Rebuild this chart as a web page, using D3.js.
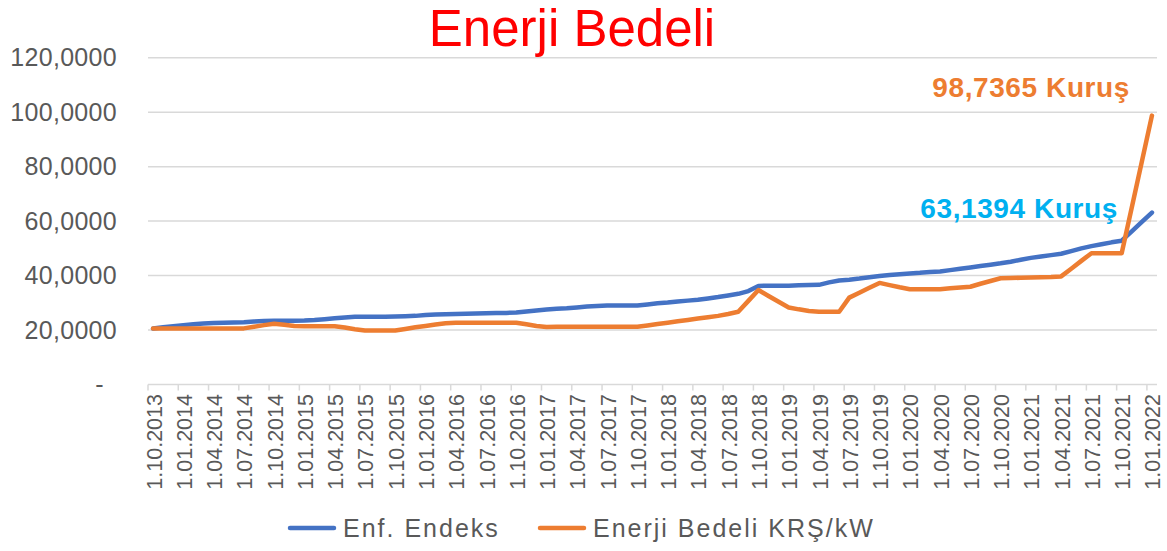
<!DOCTYPE html>
<html>
<head>
<meta charset="utf-8">
<script src="https://cdn.jsdelivr.net/npm/d3@7"></script>
<style>
  html, body { margin: 0; padding: 0; background: #ffffff; }
  svg { display: block; font-family: "Liberation Sans", Arial, sans-serif; }
</style>
</head>
<body>
<svg id="chart" width="1167" height="551"></svg>
<script>
// ---- data ----
const tickLabels = ["1.10.2013","1.01.2014","1.04.2014","1.07.2014","1.10.2014","1.01.2015","1.04.2015","1.07.2015","1.10.2015",
  "1.01.2016","1.04.2016","1.07.2016","1.10.2016","1.01.2017","1.04.2017","1.07.2017","1.10.2017",
  "1.01.2018","1.04.2018","1.07.2018","1.10.2018","1.01.2019","1.04.2019","1.07.2019","1.10.2019",
  "1.01.2020","1.04.2020","1.07.2020","1.10.2020","1.01.2021","1.04.2021","1.07.2021","1.10.2021","1.01.2022"];

const months = d3.timeMonth.range(new Date(2013, 9, 1), new Date(2022, 1, 1)); // Oct 2013 .. Jan 2022 (monthly categories)

const enfEndeks = [
  20.6,21.0,21.4,21.8,22.1,22.4,22.6,22.7,22.8,22.9,
  23.1,23.3,23.4,23.4,23.4,23.5,23.7,24.0,24.3,24.6,
  24.9,24.9,24.9,24.9,25.0,25.1,25.2,25.5,25.7,25.8,
  25.9,26.0,26.1,26.2,26.3,26.3,26.4,26.8,27.2,27.5,
  27.8,28.0,28.3,28.6,28.8,29.0,29.0,29.0,29.0,29.4,
  29.8,30.1,30.5,30.8,31.1,31.6,32.1,32.7,33.3,34.3,
  36.2,36.3,36.3,36.3,36.4,36.5,36.6,37.5,38.2,38.5,
  38.9,39.4,39.8,40.2,40.5,40.8,41.0,41.3,41.5,42.0,
  42.5,43.0,43.5,44.0,44.5,45.1,45.8,46.5,47.0,47.5,
  48.0,49.0,50.0,50.8,51.5,52.2,52.8,56.2,59.7,63.1394
];

const enerjiBedeli = [
  20.6,20.6,20.6,20.6,20.6,20.6,20.6,20.6,20.6,20.6,
  21.2,21.8,22.3,21.9,21.5,21.4,21.4,21.4,21.4,20.9,
  20.3,19.8,19.8,19.8,19.8,20.4,21.0,21.5,22.0,22.5,
  22.7,22.7,22.7,22.7,22.7,22.7,22.7,22.1,21.5,21.1,
  21.2,21.2,21.2,21.2,21.2,21.2,21.2,21.2,21.2,21.7,
  22.2,22.7,23.2,23.7,24.2,24.7,25.2,25.9,26.7,30.7,
  34.7,32.5,30.4,28.3,27.6,27.0,26.7,26.7,26.7,31.9,
  33.7,35.5,37.3,36.5,35.7,35.0,35.0,35.0,35.0,35.3,
  35.6,35.9,37.0,38.0,39.0,39.1,39.2,39.3,39.4,39.5,
  39.7,42.5,45.4,48.2,48.2,48.2,48.2,65.0,81.9,98.7365
];

const yTicks = [0, 20, 40, 60, 80, 100, 120];
const yTickLabels = ["-", "20,0000", "40,0000", "60,0000", "80,0000", "100,0000", "120,0000"];
const seriesNames = ["Enf. Endeks", "Enerji Bedeli KRŞ/kW"];
const endLabels = ["63,1394 Kuruş", "98,7365 Kuruş"];
const titleText = "Enerji Bedeli";

// ---- layout ----
const svg = d3.select("#chart");
const pLeft = 148, pRight = 1157, pTop = 57.7, pBottom = 384.5;
const colBlue = "#4472C4", colOrange = "#ED7D31", gridCol = "#D9D9D9", textCol = "#595959";

const x = d3.scaleBand().domain(d3.range(months.length)).range([pLeft, pRight]).padding(0);
const xc = i => x(i) + x.bandwidth() / 2;
const y = d3.scaleLinear().domain([0, 120]).range([pBottom, pTop]);

// title
svg.append("text").attr("x", 572).attr("y", 46).attr("text-anchor", "middle")
  .attr("font-size", 51).attr("fill", "#FF0000").text(titleText);

// gridlines
svg.append("g").selectAll("line").data(yTicks.filter(d => d > 0)).join("line")
  .attr("x1", pLeft).attr("x2", pRight).attr("y1", d => y(d)).attr("y2", d => y(d))
  .attr("stroke", gridCol).attr("stroke-width", 1.5);

// y labels
svg.append("g").selectAll("text").data(yTicks).join("text")
  .attr("x", d => d === 0 ? 104 : 117).attr("y", d => y(d)).attr("dy", "0.35em")
  .attr("text-anchor", "end").attr("font-size", 25).attr("letter-spacing", 0.3).attr("fill", textCol)
  .text((d, i) => yTickLabels[i]);

// x axis line and ticks
svg.append("line").attr("x1", pLeft).attr("x2", pRight).attr("y1", pBottom).attr("y2", pBottom)
  .attr("stroke", gridCol).attr("stroke-width", 1.5);
const tickIdx = tickLabels.map((d, k) => k * 3);
svg.append("g").selectAll("line").data(tickIdx).join("line")
  .attr("x1", d => x(d)).attr("x2", d => x(d)).attr("y1", pBottom).attr("y2", pBottom + 6)
  .attr("stroke", gridCol).attr("stroke-width", 1.5);
svg.append("g").selectAll("text").data(tickIdx).join("text")
  .attr("transform", d => `translate(${xc(d) + 1},394) rotate(-90)`)
  .attr("dy", "0.35em").attr("text-anchor", "end")
  .attr("font-size", 21.5).attr("fill", textCol)
  .text((d, k) => tickLabels[k]);

// lines
const line = d3.line().x((d, i) => xc(i)).y(d => y(d));
svg.append("path").datum(enfEndeks).attr("d", line).attr("fill", "none")
  .attr("stroke", colBlue).attr("stroke-width", 4.5).attr("stroke-linejoin", "round").attr("stroke-linecap", "round");
svg.append("path").datum(enerjiBedeli).attr("d", line).attr("fill", "none")
  .attr("stroke", colOrange).attr("stroke-width", 4.5).attr("stroke-linejoin", "round").attr("stroke-linecap", "round");

// end labels
svg.append("text").attr("x", 1118).attr("y", 218).attr("text-anchor", "end")
  .attr("font-size", 28).attr("letter-spacing", 0.6).attr("font-weight", "bold").attr("fill", "#00B0F0").text(endLabels[0]);
svg.append("text").attr("x", 1130).attr("y", 97).attr("text-anchor", "end")
  .attr("font-size", 28).attr("letter-spacing", 0.6).attr("font-weight", "bold").attr("fill", colOrange).text(endLabels[1]);

// legend
const legend = [
  { name: seriesNames[0], color: colBlue, x: 290 },
  { name: seriesNames[1], color: colOrange, x: 540 }
];
const lg = svg.append("g").selectAll("g").data(legend).join("g");
lg.append("line").attr("x1", d => d.x).attr("x2", d => d.x + 44).attr("y1", 528).attr("y2", 528)
  .attr("stroke", d => d.color).attr("stroke-width", 4.5).attr("stroke-linecap", "round");
lg.append("text").attr("x", d => d.x + 53).attr("y", 528).attr("dy", "0.35em")
  .attr("font-size", 25).attr("letter-spacing", 2).attr("fill", textCol).text(d => d.name);
</script>
</body>
</html>
